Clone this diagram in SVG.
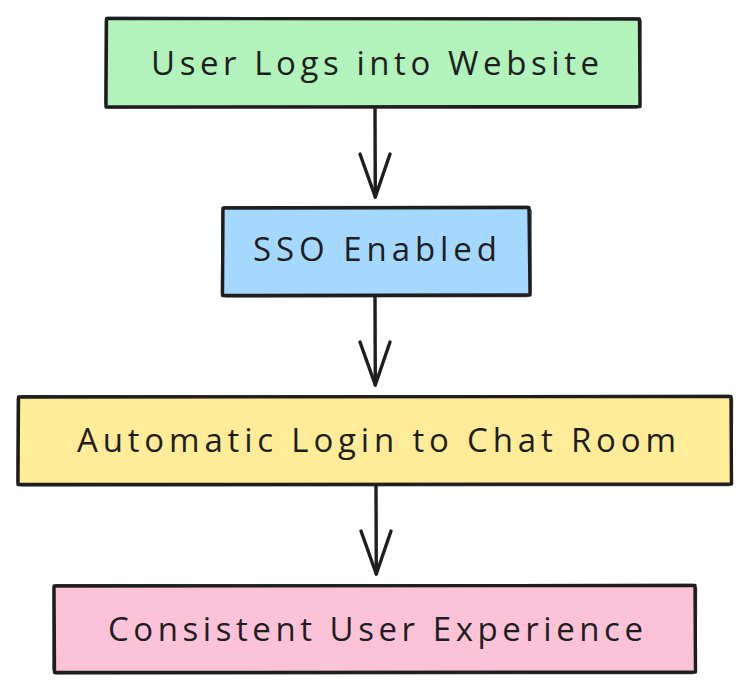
<svg xmlns="http://www.w3.org/2000/svg" width="751" height="692" viewBox="0 0 751 692">
  <defs>
    <style>
      .box { stroke: #1e1e1e; stroke-width: 3.4; stroke-linejoin: round; stroke-linecap: round; }
      .sketch { fill: none; stroke: #1e1e1e; stroke-width: 1.4; stroke-linecap: round; opacity: 0.8; }
      .lbl { font-family: "Open Sans", "Liberation Sans", sans-serif; font-size: 33px; fill: #1e1e1e; text-anchor: start; }
      .edge { fill: none; stroke: #1e1e1e; stroke-width: 3.4; stroke-linecap: round; stroke-linejoin: round; }
    </style>
  </defs>
  <rect width="751" height="692" fill="#ffffff"/>

  <g id="node-website">
    <path class="box" fill="#b2f2bb" d="M106.5 18.5 L639.5 19 L640 106.5 L106 107 Z"/>
    <path class="sketch" d="M108 17.5 L638 18.2 M641 21 L640.5 105 M637 108 L108 107.8 M105 104 L105.4 21"/>
    <text class="lbl" x="151" y="75" textLength="448" lengthAdjust="spacing">User Logs into Website</text>
  </g>

  <g id="node-sso">
    <path class="box" fill="#a5d8ff" d="M223 208 L529 207.5 L530 295 L222.5 295.5 Z"/>
    <path class="sketch" d="M225 206.8 L527 206.5 M531 210 L531 293 M527 296.5 L225 296.8 M221.5 293 L222 211"/>
    <text class="lbl" x="253" y="261" textLength="244" lengthAdjust="spacing">SSO Enabled</text>
  </g>

  <g id="node-autologin">
    <path class="box" fill="#ffec99" d="M18.5 397 L731 396.5 L731.5 484 L18 484.5 Z"/>
    <path class="sketch" d="M21 395.8 L729 395.5 M732.5 399 L732 482 M729 485.5 L21 485.8 M17 482 L17.4 399"/>
    <text class="lbl" x="77" y="452" textLength="599" lengthAdjust="spacing">Automatic Login to Chat Room</text>
  </g>

  <g id="node-consistent">
    <path class="box" fill="#fcc2d7" d="M54 586 L695 585.5 L695.5 672 L54.5 672.5 Z"/>
    <path class="sketch" d="M56 584.8 L693 584.5 M696.5 588 L696 670 M693 673.5 L56 673.8 M53 670 L53.2 588"/>
    <text class="lbl" x="108" y="641" textLength="535" lengthAdjust="spacing">Consistent User Experience</text>
  </g>

  <g id="connectors">
    <path class="edge" d="M375 108 L375.3 197"/>
    <path class="edge" d="M360 154 L375.3 197 L390 154"/>
    <path class="edge" d="M375 297 L375.3 385"/>
    <path class="edge" d="M360 342 L375.3 385 L390 342"/>
    <path class="edge" d="M376 486 L376.3 574"/>
    <path class="edge" d="M361 531 L376.3 574 L391 531"/>
  </g>
</svg>
